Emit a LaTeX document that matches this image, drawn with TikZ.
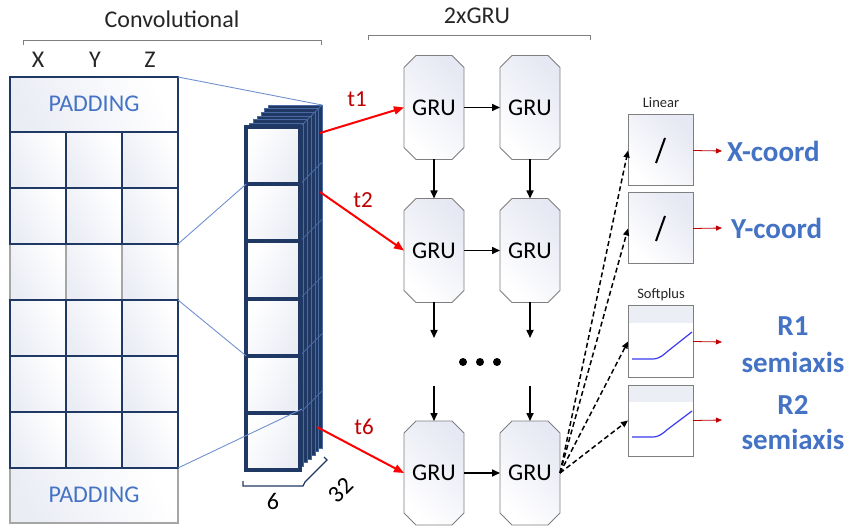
\documentclass[tikz,border=0pt]{standalone}
\usepackage{fontspec}
\setmainfont{Carlito}
\usetikzlibrary{shapes.misc,arrows.meta}
\definecolor{navy}{HTML}{1F3864}
\definecolor{navyline}{HTML}{4A6AA2}
\definecolor{padblue}{HTML}{4472C4}
\definecolor{linkblue}{HTML}{7090D0}
\definecolor{gridgray}{HTML}{A6A6A6}
\definecolor{cellLav}{HTML}{EBEDF5}
\definecolor{gruLav}{HTML}{E6E8F3}
\definecolor{tred}{HTML}{C00000}
\definecolor{arrred}{HTML}{FF0000}
\definecolor{boxgray}{HTML}{7F7F7F}
\definecolor{txtgray}{HTML}{262626}
\definecolor{spblue}{HTML}{3A3AF0}
\definecolor{bandgray}{HTML}{ECEEF5}
\newcommand\myfs[1]{\fontsize{#1}{#1}\selectfont}
\begin{document}
\begin{tikzpicture}[x=1pt,y=-1pt,
  every node/.style={inner sep=0pt,outer sep=0pt},
  navycell/.style={rectangle,draw=navy,line width=2.5pt,left color=cellLav,right color=white,shading angle=120,minimum width=56pt,minimum height=56pt},
  graycell/.style={rectangle,draw=gridgray,line width=1.2pt,left color=cellLav,right color=white,shading angle=120,minimum width=56pt,minimum height=56pt},
  padbox/.style={rectangle,left color=cellLav,right color=white,shading angle=120,minimum width=168pt,minimum height=55pt},
  frontcell/.style={rectangle,draw=navy,line width=4pt,left color=white,right color=cellLav,shading angle=60,minimum width=54pt,minimum height=57.2pt},
  backlayer/.style={fill=navy,draw=navyline,line width=0.5pt},
  gru/.style={chamfered rectangle,chamfered rectangle xsep=6pt,chamfered rectangle ysep=6pt,draw=boxgray,line width=0.8pt,left color=white,right color=gruLav,shading angle=135,minimum width=60pt,minimum height=104pt,font=\myfs{24},text=black},
  outbox/.style={rectangle,draw=boxgray,line width=1pt,left color=white,right color=gruLav,shading angle=135,minimum width=65pt,minimum height=71pt},
  spbox/.style={rectangle,draw=boxgray,line width=1pt,fill=white,minimum width=65pt,minimum height=71pt},
  lbl/.style={font=\myfs{24},text=txtgray},
  tlbl/.style={font=\myfs{23},text=tred},
  outlbl/.style={font=\bfseries\myfs{29},text=padblue,align=center},
  bracket/.style={draw=boxgray,line width=1pt},
  link/.style={draw=linkblue,line width=0.9pt},
  redarrow/.style={draw=arrred,line width=2pt,-{Triangle[length=10pt,width=8pt]}},
  blackarrow/.style={draw=black,line width=1.6pt,-{Triangle[length=8pt,width=7pt]}},
  dasharrow/.style={draw=black,line width=1.5pt,dash pattern=on 5pt off 3pt,-{Triangle[length=7pt,width=6pt]}},
  thinred/.style={draw=tred,line width=0.8pt,-{Triangle[length=6pt,width=5pt]}}
]
\useasboundingbox (0,0) rectangle (851,526);

% headings and brackets
\node[lbl,anchor=base] (convt) at (172,28) {Convolutional};
\draw[bracket] (23,45) -- (23,41) -- (321,41) -- (321,45);
\node[lbl,anchor=base] (grut) at (477,24) {2xGRU};
\draw[bracket] (368,40) -- (368,36) -- (590,36) -- (590,40);
\node[lbl,anchor=base] (xl) at (38,68) {X};
\node[lbl,anchor=base] (yl) at (95,68) {Y};
\node[lbl,anchor=base] (zl) at (150,68) {Z};

% left input grid
\foreach \c/\x in {1/38,2/94,3/150}{
  \node[graycell] (L-3-\c) at (\x,272) {};
}
\node[padbox,draw=gridgray,line width=1.2pt] (pbot) at (94,495.5) {};
\node[font=\myfs{24},text=padblue,anchor=base] (pbott) at (94,502) {PADDING};
\foreach \c/\x in {1/38,2/94,3/150}{
  \foreach \r/\y in {1/160,2/216,4/328,5/384,6/440}{
    \node[navycell] (L-\r-\c) at (\x,\y) {};
  }
}
\node[padbox,draw=navy,line width=2.5pt] (ptop) at (94,104.5) {};
\node[font=\myfs{24},text=padblue,anchor=base] (ptopt) at (94,112) {PADDING};

% stacked feature maps
\foreach \k in {6,5,4,3,2,1}{
  \path[backlayer] ({246+3.7*\k},{127-3.7*\k}) rectangle ({300+3.7*\k},{470-3.7*\k});
}
\foreach \i in {0,...,5}{
  \draw[navyline,line width=0.8pt] (300,{127+57.2*\i}) -- (322.2,{104.8+57.2*\i});
}
\foreach \i in {1,...,6}{
  \node[frontcell] (c\i) at (273,{127+57.2*(\i-0.5)}) {};
}

% links from grid to stack
\draw[link] (ptop.north east) -- (322,105);
\draw[link] (L-2-3.south east) -- (c2.north west);
\draw[link] (L-4-3.north east) -- (c5.north west);
\draw[link] (L-6-3.south east) -- (302,409);

% width / depth braces
\draw[draw=navy,line width=1.2pt] (243,481) -- (243,486) -- (303,486) -- (305,482) -- (327,460) -- (324,457);
\node[font=\myfs{24},text=black,anchor=base] (six) at (273,509) {6};
\node[font=\myfs{24},text=black,rotate=45] (tt) at (341,490) {32};

% GRU grid
\node[gru] (g11) at (434,107.5) {GRU};
\node[gru] (g12) at (530,107.5) {GRU};
\node[gru] (g21) at (434,250.5) {GRU};
\node[gru] (g22) at (530,250.5) {GRU};
\node[gru] (g31) at (434,473) {GRU};
\node[gru] (g32) at (530,473) {GRU};

\draw[blackarrow] (g11.east) -- (g12.west);
\draw[blackarrow] (g21.east) -- (g22.west);
\draw[blackarrow] (g31.east) -- (g32.west);
\draw[blackarrow] (g11.south) -- (g21.north);
\draw[blackarrow] (g12.south) -- (g22.north);
\coordinate (d1a) at (434,338);
\coordinate (d2a) at (530,338);
\coordinate (d1b) at (434,386);
\coordinate (d2b) at (530,386);
\draw[blackarrow] (g21.south) -- (d1a);
\draw[blackarrow] (g22.south) -- (d2a);
\draw[blackarrow] (d1b) -- (g31.north);
\draw[blackarrow] (d2b) -- (g32.north);
\foreach \x/\n in {463/1,480/2,497/3}{
  \node[circle,fill=black,minimum size=8pt] (dot\n) at (\x,362) {};
}

% red time-step arrows
\coordinate (s1) at (320,133);
\coordinate (s2) at (320,192);
\coordinate (s6) at (317,427);
\draw[redarrow] (s1) -- (g11.west);
\draw[redarrow] (s2) -- (g21.west);
\draw[redarrow] (s6) -- (g31.west);
\node[tlbl,anchor=base] (t1) at (357,107) {t1};
\node[tlbl,anchor=base] (t2) at (363,208) {t2};
\node[tlbl,anchor=base] (t6) at (364,434) {t6};

% output heads
\node[font=\myfs{14.5},text=txtgray,anchor=base] (linl) at (661,108) {Linear};
\node[outbox] (lin1) at (660.5,150.5) {};
\node[outbox] (lin2) at (660.5,228.5) {};
\draw[line width=2pt] (656,163) -- (665,138);
\draw[line width=2pt] (656,241) -- (665,216);

\node[font=\myfs{14.5},text=txtgray,anchor=base] (spl) at (661,299) {Softplus};
\node[spbox] (sp1) at (660.5,341.5) {};
\node[spbox] (sp2) at (660.5,420.5) {};
\fill[bandgray] (628.5,306.5) rectangle (692.5,323);
\fill[bandgray] (628.5,385.5) rectangle (692.5,402);
\draw[draw=boxgray,line width=1pt] (sp1.north west) rectangle (sp1.south east);
\draw[draw=boxgray,line width=1pt] (sp2.north west) rectangle (sp2.south east);
\draw[spblue,line width=1.2pt] (632,359) -- (652,359) .. controls (660,359) and (663,355) .. (668,351) -- (692,332);
\draw[spblue,line width=1.2pt] (632,437) -- (652,437) .. controls (660,437) and (663,433) .. (668,429) -- (692,411);

\draw[dasharrow] (g32.east) -- (lin1.west);
\draw[dasharrow] (g32.east) -- (lin2.west);
\draw[dasharrow] (g32.east) -- (sp1.west);
\draw[dasharrow] (g32.east) -- (sp2.west);

\node[outlbl,anchor=west] (xc) at (727,151) {X-coord};
\node[outlbl,anchor=west] (yc) at (731,228) {Y-coord};
\node[outlbl,anchor=base] (r1) at (793,336) {R1};
\node[outlbl,anchor=base] (r1s) at (793,372) {semiaxis};
\node[outlbl,anchor=base] (r2) at (793,414) {R2};
\node[outlbl,anchor=base] (r2s) at (793,449) {semiaxis};
\coordinate (xin) at (722,151);
\coordinate (yin) at (722,228);
\coordinate (r1in) at (722,342);
\coordinate (r2in) at (722,420);
\draw[thinred] (lin1.east) -- (xin);
\draw[thinred] (lin2.east) -- (yin);
\draw[thinred] (sp1.east) -- (r1in);
\draw[thinred] (sp2.east) -- (r2in);
\end{tikzpicture}
\end{document}
